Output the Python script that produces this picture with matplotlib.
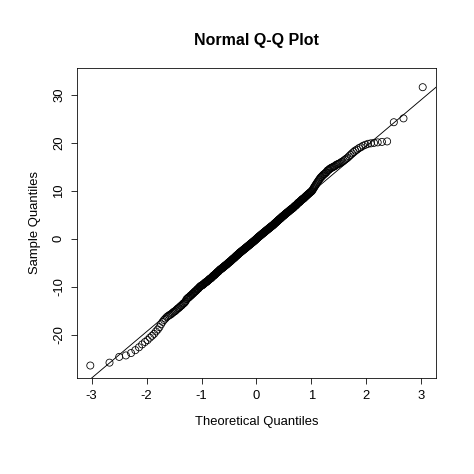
import numpy as np
import matplotlib
matplotlib.use("Agg")
import matplotlib.pyplot as plt
from statistics import NormalDist

sample = [
-26.4,-25.8,-24.6,-24.3,-23.8,-23.2,-22.6,-22.0,-21.5,-21.1,-20.6,-20.2,-19.8,-19.3,-18.9,-18.4,-17.8,-17.3,-16.9,-16.6,
-16.3,-16.1,-15.9,-15.8,-15.6,-15.4,-15.2,-15.1,-14.9,-14.7,-14.5,-14.4,-14.2,-14.0,-13.9,-13.7,-13.5,-13.4,-13.2,-13.0,
-12.6,-12.5,-12.3,-12.2,-12.1,-11.9,-11.8,-11.7,-11.5,-11.4,-11.3,-11.1,-11.0,-10.9,-10.8,-10.6,-10.5,-10.4,-10.3,-10.1,
-10.0,-9.9,-9.8,-9.7,-9.7,-9.6,-9.5,-9.4,-9.3,-9.2,-9.1,-9.0,-9.0,-8.9,-8.8,-8.7,-8.6,-8.5,-8.4,-8.3,
-8.3,-8.2,-8.1,-8.0,-7.9,-7.8,-7.7,-7.6,-7.6,-7.5,-7.4,-7.3,-7.2,-7.1,-7.0,-6.9,-6.9,-6.8,-6.7,-6.6,
-6.5,-6.4,-6.4,-6.3,-6.2,-6.2,-6.1,-6.0,-6.0,-5.9,-5.8,-5.7,-5.7,-5.6,-5.5,-5.5,-5.4,-5.3,-5.3,-5.2,
-5.1,-5.0,-5.0,-4.9,-4.8,-4.8,-4.7,-4.6,-4.6,-4.5,-4.4,-4.3,-4.3,-4.2,-4.1,-4.1,-4.0,-3.9,-3.9,-3.8,
-3.7,-3.6,-3.6,-3.5,-3.4,-3.4,-3.3,-3.2,-3.2,-3.1,
-3.0,-2.9,-2.9,-2.8,-2.8,-2.7,-2.6,-2.6,-2.5,-2.5,-2.4,-2.3,-2.3,-2.2,-2.2,-2.1,-2.0,-2.0,-1.9,-1.9,
-1.8,-1.7,-1.7,-1.6,-1.6,-1.5,-1.4,-1.4,-1.3,-1.3,-1.2,-1.1,-1.1,-1.0,-1.0,-0.9,-0.8,-0.8,-0.7,-0.7,
-0.6,-0.5,-0.5,-0.4,-0.4,-0.3,-0.2,-0.2,-0.1,0.0,
0.0,0.1,0.2,0.2,0.3,0.4,0.4,0.5,0.5,0.6,0.7,0.7,0.8,0.8,0.9,1.0,1.0,1.1,1.1,1.2,
1.3,1.3,1.4,1.4,1.5,1.6,1.6,1.7,1.7,1.8,1.9,1.9,2.0,2.0,2.1,2.2,2.2,2.3,2.3,2.4,
2.5,2.5,2.6,2.6,2.7,2.8,2.8,2.9,2.9,3.0,
3.1,3.2,3.2,3.3,3.4,3.4,3.5,3.6,3.6,3.7,3.8,3.9,3.9,4.0,4.1,4.1,4.2,4.3,4.3,4.4,
4.5,4.6,4.6,4.7,4.8,4.8,4.9,5.0,5.0,5.1,5.2,5.3,5.3,5.4,5.5,5.5,5.6,5.7,5.7,5.8,
5.9,6.0,6.0,6.1,6.2,6.2,6.3,6.4,6.4,6.5,
6.6,6.7,6.8,6.9,6.9,7.0,7.1,7.2,7.3,7.4,7.5,7.6,7.6,7.7,7.8,7.9,8.0,8.1,8.2,8.3,
8.3,8.4,8.5,8.6,8.7,8.8,8.9,9.0,9.1,9.2,9.3,9.4,9.5,9.6,9.7,9.8,9.9,10.0,10.2,10.4,
10.6,10.8,11.0,11.2,11.4,11.6,11.8,12.0,12.2,12.4,12.6,12.8,12.9,13.1,13.2,13.4,13.5,13.6,13.8,13.9,
14.2,14.3,14.4,14.6,14.7,14.8,14.9,15.0,15.1,15.2,15.4,15.5,15.6,15.7,15.8,16.0,16.1,16.3,16.5,16.7,
16.9,17.2,17.5,17.8,18.1,18.4,18.6,18.9,19.1,19.4,19.6,19.8,19.9,20.0,20.1,20.2,20.3,24.3,25.1,31.6,
]
x_ticks = [-3, -2, -1, 0, 1, 2, 3]
y_ticks = [-20, -10, 0, 10, 20, 30]

y = np.sort(np.array(sample))
n = len(y)
nd = NormalDist()
theo = np.array([nd.inv_cdf((i - 0.5) / n) for i in range(1, n + 1)])

# qqline through quartiles
yq = np.quantile(y, [0.25, 0.75])
xq = np.array([nd.inv_cdf(0.25), nd.inv_cdf(0.75)])
slope = (yq[1] - yq[0]) / (xq[1] - xq[0])
intercept = yq[0] - slope * xq[0]

plt.rcParams['font.family'] = ['Liberation Sans', 'DejaVu Sans']
fig = plt.figure(figsize=(474/72, 474/72), dpi=72)
ax = fig.add_axes([77/474, 1-378/474, (436-77)/474, (378-68)/474])

ax.scatter(theo, y, s=50, facecolors='none', edgecolors='black', linewidths=0.8)
xr = theo.max() - theo.min()
xlim = (theo.min() - 0.04*xr, theo.max() + 0.04*xr)
ylim = (-29.0, 35.6)
xx = np.array(xlim)
ax.plot(xx, intercept + slope * xx, color='black', lw=0.9)
ax.set_xlim(*xlim); ax.set_ylim(*ylim)

ax.set_xticks(x_ticks); ax.set_yticks(y_ticks)
ax.set_xticklabels([str(t) for t in x_ticks], fontsize=13)
ax.set_yticklabels([str(t) for t in y_ticks], fontsize=13, rotation=90, va='center')
ax.tick_params(length=6, width=0.8, pad=6)
for s in ax.spines.values():
    s.set_linewidth(0.8)

ax.set_xlabel("Theoretical Quantiles", fontsize=13, labelpad=14)
ax.set_ylabel("Sample Quantiles", fontsize=13, labelpad=12)
fig.text((77+436)/2/474, 1-40/474, "Normal Q-Q Plot", ha='center', va='center',
         fontsize=16, fontweight='bold')

fig.savefig("out.png", dpi=72)
